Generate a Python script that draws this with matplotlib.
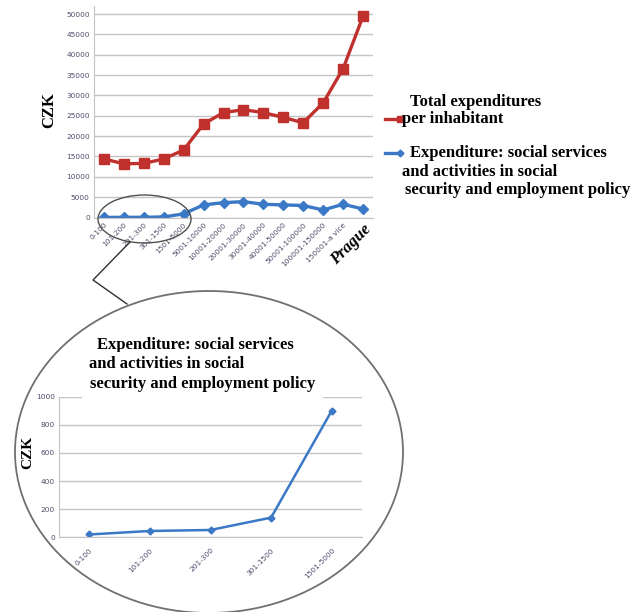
import matplotlib
matplotlib.use('Agg')
import matplotlib.pyplot as plt
from matplotlib.patches import Ellipse
from matplotlib.lines import Line2D

# municipality size groups (inhabitants)
groups = ['0-100', '101-200', '201-300', '301-1500', '1501-5000', '5001-10000',
          '10001-20000', '20001-30000', '30001-40000', '40001-50000',
          '50001-100000', '100001-150000', '150001-a více', 'Prague']
total_exp = [14400, 13200, 13300, 14400, 16600, 23000, 25800, 26500, 25800,
             24600, 23300, 28200, 36600, 49500]
social_exp = [20, 45, 52, 140, 900, 3100, 3650, 3900, 3250, 3100, 2950, 1850,
              3250, 2100]

# detail of the five smallest groups
small_groups = groups[:5]
small_social = social_exp[:5]

W, H = 643, 612
RED = '#c0312e'
BLUE = '#3b78c6'
GRID = '#c4c4c4'
TICK = '#4e4e6c'
serif = 'Liberation Serif'

fig = plt.figure(figsize=(W / 100, H / 100), dpi=100)

def box(left, top, right, bottom):
    return [left / W, 1 - bottom / H, (right - left) / W, (bottom - top) / H]

def style(ax):
    for s in ['top', 'right']:
        ax.spines[s].set_visible(False)
    for s in ['left', 'bottom']:
        ax.spines[s].set_color(GRID)
    ax.grid(axis='y', color=GRID, lw=1)
    ax.set_axisbelow(True)
    ax.tick_params(length=0, colors=TICK, labelsize=5.3, pad=3)

# main chart
ax = fig.add_axes(box(94, 6, 373, 217.5))
style(ax)
x = range(len(groups))
ax.plot(x, total_exp, color=RED, lw=2.4, marker='s', ms=6.5, mec=RED)
ax.plot(x, social_exp, color=BLUE, lw=2.4, marker='D', ms=5, mec=BLUE)
ax.set_xlim(-0.5, len(groups) - 0.5)
ax.set_ylim(0, 52000)
ax.set_yticks(range(0, 50001, 5000))
ax.set_xticks(list(x))
ax.set_xticklabels(groups, rotation=45, ha='right', rotation_mode='anchor')
lab = ax.get_xticklabels()[-1]
lab.set_fontfamily(serif)
lab.set_fontsize(12)
lab.set_fontweight('bold')
lab.set_fontstyle('italic')
lab.set_color('black')
fig.text(49 / W, 1 - 110 / H, 'CZK', rotation=90, ha='center', va='center',
         family=serif, fontsize=12, fontweight='bold')

# legend drawn by hand
lkw = dict(family=serif, fontsize=12, fontweight='bold', va='center')
fig.text(410 / W, 1 - 102 / H, 'Total expenditures', **lkw)
fig.text(402 / W, 1 - 119 / H, 'per inhabitant', **lkw)
fig.text(410 / W, 1 - 153 / H, 'Expenditure: social services', **lkw)
fig.text(402 / W, 1 - 172 / H, 'and activities in social', **lkw)
fig.text(405 / W, 1 - 190 / H, 'security and employment policy', **lkw)
fig.add_artist(Line2D([385 / W, 400 / W], [1 - 119 / H] * 2, color=RED, lw=2.4,
                      marker='s', ms=4, markevery=[1], transform=fig.transFigure))
fig.add_artist(Line2D([385 / W, 400 / W], [1 - 153 / H] * 2, color=BLUE, lw=2.4,
                      marker='D', ms=3.5, markevery=[1], transform=fig.transFigure))

# inset with the smallest municipalities
ax2 = fig.add_axes(box(59, 396.7, 362, 537.3))
style(ax2)
x2 = range(len(small_groups))
ax2.plot(x2, small_social, color=BLUE, lw=1.8, marker='D', ms=3.5, mec=BLUE)
ax2.set_xlim(-0.5, len(small_groups) - 0.5)
ax2.set_ylim(0, 1000)
ax2.set_yticks(range(0, 1001, 200))
ax2.set_xticks(list(x2))
ax2.set_xticklabels(small_groups, rotation=45, ha='right', rotation_mode='anchor')
ax2.tick_params(axis='x', pad=7)
fig.text(28 / W, 1 - 452 / H, 'CZK', rotation=90, ha='center', va='center',
         family=serif, fontsize=11, fontweight='bold')

tkw = dict(family=serif, fontsize=12, fontweight='bold', va='center')
fig.text(97 / W, 1 - 345 / H, 'Expenditure: social services',
         bbox=dict(fc='white', ec='none', pad=3), **tkw)
fig.text(89 / W, 1 - 364 / H, 'and activities in social',
         bbox=dict(fc='white', ec='none', pad=3), **tkw)
fig.text(90 / W, 1 - 384 / H, 'security and employment policy',
         bbox=dict(fc='white', ec='none', pad=5.5), **tkw)

# zoom ellipses and connector
ov = fig.add_axes([0, 0, 1, 1], facecolor='none')
ov.set_xlim(0, W)
ov.set_ylim(H, 0)
ov.axis('off')
ov.add_patch(Ellipse((144.5, 219), 93, 48, fill=False, ec='#505050', lw=1))
ov.add_patch(Ellipse((209, 452), 388, 322, fill=False, ec='#707070', lw=1.3))
ov.plot([130, 93, 127], [242, 280, 304], color='#303030', lw=1)

fig.savefig('out.png', dpi=100)
